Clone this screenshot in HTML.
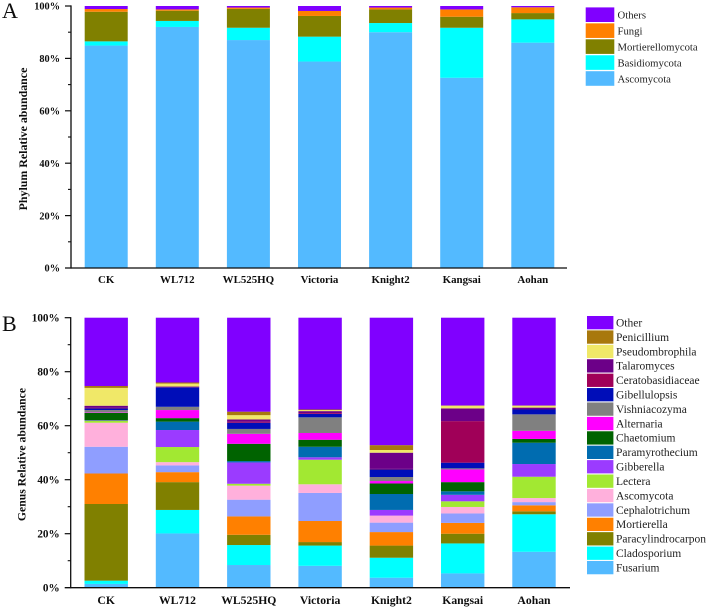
<!DOCTYPE html>
<html lang="en">
<head>
<meta charset="utf-8">
<title>Phylum and Genus Relative Abundance</title>
<style>
  html, body { margin: 0; padding: 0; background: #fff; }
  body { width: 708px; height: 609px; overflow: hidden; }
  svg { display: block; font-family: "Liberation Serif", "Times New Roman", serif; }
  .tick { font-weight: bold; fill: #111; }
  .cat { font-weight: bold; fill: #111; }
  .title { font-weight: bold; fill: #111; }
  .leg { fill: #222; }
  .panel { font-size: 22px; fill: #111; }
</style>
</head>
<body>
<svg id="chart" xmlns="http://www.w3.org/2000/svg" width="708" height="609" viewBox="0 0 708 609">
  <defs>
    <filter id="soft" x="-2%" y="-2%" width="104%" height="104%"><feGaussianBlur stdDeviation="0.3"/></filter>
  </defs>
  <rect width="708" height="609" fill="#fff"/>
  <g id="root" filter="url(#soft)"></g>
</svg>
<script>
const categories = ["CK", "WL712", "WL525HQ", "Victoria", "Knight2", "Kangsai", "Aohan"];
const tickLabels = ["0%", "20%", "40%", "60%", "80%", "100%"];
const tickValues = [0, 20, 40, 60, 80, 100];
const minorTickValues = [10, 30, 50, 70, 90];

/* Panel A: phylum, bottom to top */
const ascomycotaPhylum = [84.9, 92, 87, 78.8, 90, 72.6, 86];
const basidiomycota = [1.6, 2.3, 4.7, 9.5, 3.5, 19.1, 8.9];
const mortierellomycota = [11.3, 3.9, 7.2, 7.9, 5.2, 4.2, 2.4];
const fungi = [1.05, 0.5, 0.5, 1.9, 0.7, 2.8, 2.2];
const othersPhylum = [1.15, 1.3, 0.6, 1.9, 0.6, 1.3, 0.5];

/* Panel B: genus, bottom to top */
const fusarium = [1.4, 20.1, 8.4, 8.1, 3.7, 5.3, 13.3];
const cladosporium = [1.2, 8.7, 7.4, 7.5, 7.4, 11.1, 13.9];
const paracylindrocarpon = [28.4, 10.3, 3.8, 1.3, 4.5, 3.6, 1.1];
const mortierella = [11.3, 3.7, 6.8, 7.8, 5, 4, 2.2];
const cephalotrichum = [9.9, 2.5, 6.2, 10.4, 3.5, 3.5, 1.2];
const ascomycotaGenus = [8.9, 1.2, 5.2, 3.2, 2.6, 2.4, 1.5];
const lectera = [0.7, 5.6, 0.7, 9.1, 0, 2.1, 7.9];
const gibberella = [0.1, 6.3, 7.9, 0.9, 2.1, 2.4, 4.7];
const paramyrothecium = [0.1, 3.1, 0.5, 3.9, 5.9, 1.3, 7.9];
const chaetomium = [2.8, 1.3, 6.4, 2.6, 3.9, 3.4, 1.4];
const alternaria = [0.2, 3, 3.7, 2.5, 0.9, 4.7, 3];
const vishniacozyma = [0.8, 1.2, 1.8, 5.8, 1.5, 0.4, 6.1];
const gibellulopsis = [0.6, 7.2, 2.3, 1.3, 2.8, 2.1, 1.8];
const ceratobasidiaceae = [0.2, 0.1, 0.4, 0.3, 0.2, 15.4, 0];
const talaromyces = [0.8, 0.2, 0.8, 0.7, 6, 4.7, 0.7];
const pseudombrophila = [6.6, 1.1, 1.6, 0.4, 1, 1, 0.7];
const penicillium = [0.7, 0.4, 1.3, 0.2, 1.8, 0.1, 0.1];
const otherGenus = [25.3, 24, 34.8, 34, 47.2, 32.5, 32.5];

const phylumNames = ["Ascomycota", "Basidiomycota", "Mortierellomycota", "Fungi", "Others"];
const phylumSeries = [ascomycotaPhylum, basidiomycota, mortierellomycota, fungi, othersPhylum];
const genusNames = ["Fusarium", "Cladosporium", "Paracylindrocarpon", "Mortierella", "Cephalotrichum", "Ascomycota", "Lectera", "Gibberella", "Paramyrothecium", "Chaetomium", "Alternaria", "Vishniacozyma", "Gibellulopsis", "Ceratobasidiaceae", "Talaromyces", "Pseudombrophila", "Penicillium", "Other"];
const genusSeries = [fusarium, cladosporium, paracylindrocarpon, mortierella, cephalotrichum, ascomycotaGenus, lectera, gibberella, paramyrothecium, chaetomium, alternaria, vishniacozyma, gibellulopsis, ceratobasidiaceae, talaromyces, pseudombrophila, penicillium, otherGenus];

const phylumColors = ["#52baff", "#00ffff", "#808000", "#ff8000", "#8000ff"];
const genusColors = ["#52baff", "#00ffff", "#808000", "#ff8000", "#8f9eff", "#ffb0dc", "#a2e832", "#9b3bff", "#006cb0", "#006400", "#ff00ff", "#808080", "#0010b8", "#a00058", "#6c0088", "#f0e868", "#a87810", "#8000ff"];

const NS = "http://www.w3.org/2000/svg";
const root = document.getElementById("root");

function make(tag, attrs, text) {
  const el = document.createElementNS(NS, tag);
  for (const k in attrs) el.setAttribute(k, attrs[k]);
  if (text !== undefined) el.textContent = text;
  root.appendChild(el);
  return el;
}
function slug(s) { return s.toLowerCase().replace(/[^a-z0-9]+/g, "-"); }

function drawPanel(p) {
  const yScale = v => p.y0 - v * (p.y0 - p.y100) / 100;
  const xScale = i => p.x0 + i * p.step;

  /* stacked bars */
  categories.forEach((cat, i) => {
    let cum = 0;
    p.series.forEach((vals, s) => {
      const v = vals[i];
      const top = yScale(cum + v), bottom = yScale(cum);
      cum += v;
      const r = make("rect", { x: xScale(i) - p.bw / 2, y: top, width: p.bw, height: Math.max(0, bottom - top), fill: p.colors[s] });
      
      
    });
  });

  /* axes */
  const yAxis = make("line", { x1: p.axisX, x2: p.axisX, y1: yScale(100) - 0.6, y2: yScale(0) + 0.6, stroke: "#111", "stroke-width": 1.3 });
  
  
  const xAxis = make("line", { x1: p.axisX - 6, x2: p.xEnd, y1: yScale(0), y2: yScale(0), stroke: "#111", "stroke-width": 1.3 });
  
  

  tickValues.forEach((v, i) => {
    if (v > 0) {
      const t = make("line", { x1: p.axisX - 6, x2: p.axisX, y1: yScale(v), y2: yScale(v), stroke: "#111", "stroke-width": 1.2 });
      
      
    }
    const l = make("text", { x: p.axisX - 11, y: yScale(v) + 3.7, "text-anchor": "end", class: "tick", "font-size": p.tickSize }, tickLabels[i]);
    
    
  });
  minorTickValues.forEach(v => {
    const t = make("line", { x1: p.axisX - 3, x2: p.axisX, y1: yScale(v), y2: yScale(v), stroke: "#111", "stroke-width": 1.1 });
    
    
  });

  categories.forEach((cat, i) => {
    const l = make("text", { x: xScale(i), y: p.catY, "text-anchor": "middle", class: "cat", "font-size": p.catSize }, cat);
    
    
  });

  const title = make("text", { x: 0, y: 0, "text-anchor": "middle", class: "title", "font-size": p.titleSize, transform: "translate(" + p.titleX + "," + p.titleY + ") rotate(-90)" }, p.title);
  
  

  const letter = make("text", { x: p.letterX, y: p.letterY, class: "panel" }, p.letter);
  
  

  /* legend: reverse of stacking order */
  const n = p.names.length;
  p.names.forEach((name, s) => {
    const row = n - 1 - s;
    const top = p.legTop + row * p.legStep;
    const sw = make("rect", { x: p.legX, y: top, width: p.legW, height: p.legH, fill: p.colors[s] });
    
    
    const tx = make("text", { x: p.legTextX, y: top + p.legH / 2 + 3.8, class: "leg", "font-size": p.legSize }, name);
    
    
  });
}

drawPanel({
  key: "phylum", series: phylumSeries, names: phylumNames, colors: phylumColors,
  y0: 268, y100: 6, x0: 106.2, step: 71.1, bw: 43, axisX: 71, xEnd: 567, catY: 283,
  tickSize: 10.3, catSize: 10.9, titleSize: 11.9, legSize: 10.7,
  title: "Phylum Relative abundance", titleX: 27, titleY: 139,
  letter: "A", letterX: 2, letterY: 18,
  legX: 585.7, legW: 28.6, legH: 14.6, legTop: 7.4, legStep: 15.95, legTextX: 617.5
});
drawPanel({
  key: "genus", series: genusSeries, names: genusNames, colors: genusColors,
  y0: 587.7, y100: 317.7, x0: 106.2, step: 71.3, bw: 43.4, axisX: 70.7, xEnd: 570, catY: 604,
  tickSize: 11.2, catSize: 11.7, titleSize: 11.7, legSize: 11.5,
  title: "Genus Relative abundance", titleX: 25.5, titleY: 454.5,
  letter: "B", letterX: 2, letterY: 331,
  legX: 587, legW: 26.4, legH: 13.3, legTop: 316, legStep: 14.41, legTextX: 616
});
</script>
</body>
</html>
